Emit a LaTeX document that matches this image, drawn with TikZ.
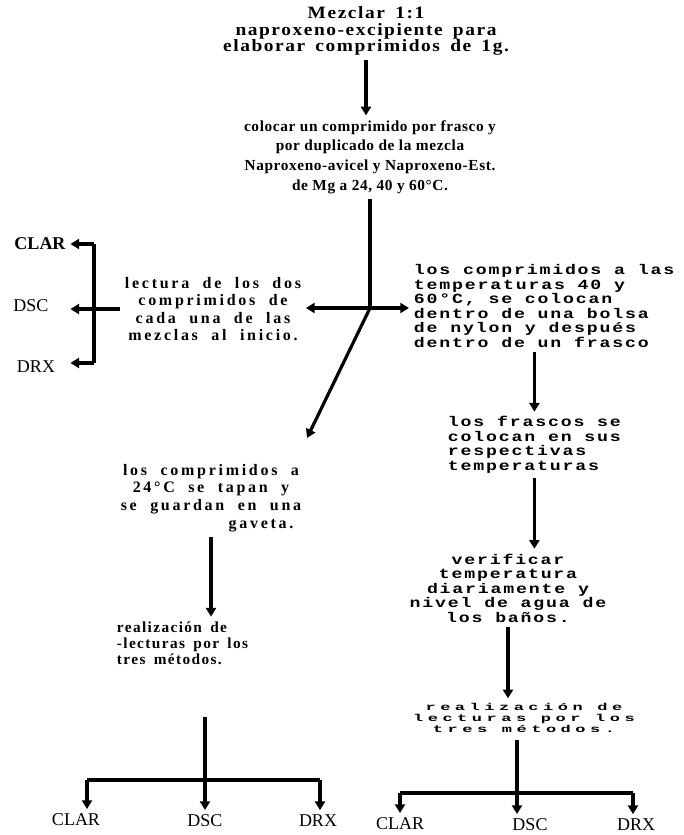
\documentclass[tikz,border=0pt]{standalone}
\usepackage{fontspec}
\usetikzlibrary{arrows.meta}
\newfontfamily\serfont{Liberation Serif}
\newfontfamily\titfont[FakeStretch=1.12,LetterSpace=9,WordSpace=1.6]{Liberation Serif}
\newfontfamily\stepfont[LetterSpace=4]{Liberation Serif}
\newfontfamily\widfont[LetterSpace=17,WordSpace=2]{Liberation Serif}
\newfontfamily\sidfont[LetterSpace=9,WordSpace=1.6]{Liberation Serif}
\newfontfamily\typfont[FakeStretch=1.3,LetterSpace=13]{Liberation Mono}
\newfontfamily\sprfont[FakeStretch=1.7,LetterSpace=45]{Liberation Mono}

\tikzset{every picture/.style={line width=0.75pt}}
\tikzset{
  conn/.style={line width=2.4pt, -{Triangle[width=7.5pt,length=6.5pt]}},
  bar/.style={line width=2.4pt},
  titletxt/.style={align=center, font=\titfont\bfseries\fontsize{13}{12.3}\selectfont},
  steptxt/.style={align=center, font=\stepfont\bfseries\fontsize{11.5}{14.8}\selectfont},
  widetxt/.style={align=center, font=\widfont\bfseries\fontsize{12}{13.2}\selectfont},
  sidetxt/.style={anchor=west, align=left, font=\sidfont\bfseries\fontsize{11.5}{12}\selectfont},
  typetxt/.style={font=\typfont\bfseries\fontsize{10.5}{10.9}\selectfont},
  sparsetxt/.style={align=center, font=\sprfont\bfseries\fontsize{7.5}{8.3}\selectfont},
  lbl/.style={font=\serfont\fontsize{13.5}{14}\selectfont},
  lblb/.style={font=\serfont\bfseries\fontsize{13.5}{14}\selectfont},
}

\begin{document}
\begin{tikzpicture}[x=0.75pt,y=0.75pt,yscale=-1,xscale=1]
\useasboundingbox (0,0) rectangle (684,835);

% Text Node
\draw (366,31) node (mezcla) [titletxt] {Mezclar 1:1\\naproxeno-excipiente para\\elaborar comprimidos de 1g.};
% Text Node
\draw (370,157) node (frasco) [steptxt] {colocar un comprimido por frasco y\\por duplicado de la mezcla\\Naproxeno-avicel y Naproxeno-Est.\\de Mg a 24, 40 y 60°C.};
% Text Node
\draw (213,309) node (lectura) [widetxt] {lectura de los dos\\comprimidos de\\cada una de las\\mezclas al inicio.};
% Text Node
\draw (409,306) node (bolsa) [typetxt, anchor=west, align=left] {los comprimidos a las\\temperaturas 40 y\\60°C, se colocan\\dentro de una bolsa\\de nylon y después\\dentro de un frasco};
% Text Node
\draw (443,445) node (temps) [typetxt, anchor=west, align=left] {los frascos se\\colocan en sus\\respectivas\\temperaturas};
% Text Node
\draw (508,588) node (verif) [typetxt, align=center] {verificar\\temperatura\\diariamente y\\nivel de agua de\\los baños.};
% Text Node
\draw (524,718) node (metodosR) [sparsetxt] {realización de\\lecturas por los\\tres métodos.};
% Text Node
\draw (211,498) node (gaveta) [widetxt] {los comprimidos a\\24°C se tapan y\\se guardan en una\\\hspace*{75pt}gaveta.};
% Text Node
\draw (112,643) node (metodosL) [sidetxt] {realización de\\-lecturas por los\\tres métodos.};

% Text Node
\draw (40,244) node (clarT) [lblb] {CLAR};
\draw (31,306) node (dscT) [lbl] {DSC};
\draw (36,367) node (drxT) [lbl] {DRX};
\draw (76,820) node (clarL) [lbl] {CLAR};
\draw (205,821) node (dscL) [lbl] {DSC};
\draw (318,821) node (drxL) [lbl] {DRX};
\draw (400,824) node (clarR) [lbl] {CLAR};
\draw (530,825) node (dscR) [lbl] {DSC};
\draw (636,825) node (drxR) [lbl] {DRX};

\coordinate (jn) at (370,308);
\coordinate (dg) at (307,438);
\coordinate (bt) at (94,244);
\coordinate (bb) at (94,363);
\coordinate (lt) at (205,717);
\coordinate (lj) at (205,780);
\coordinate (la) at (87,780);
\coordinate (lc) at (320,780);
\coordinate (rt) at (517,740);
\coordinate (rj) at (517,793);
\coordinate (ra) at (400,793);
\coordinate (rc) at (633,793);

% Connection
\draw [conn] (mezcla.south) -- (mezcla.south |- frasco.north);
\draw [bar] (frasco.south -| jn) -- (jn);
\draw [conn] (jn) -- (jn -| lectura.east);
\draw [conn] (jn) -- (jn -| bolsa.west);
\draw [conn] (jn) -- (dg);
% Connection
\draw [bar] (bt) -- (bb);
\draw [conn] (bt) -- (bt -| clarT.east);
\draw [conn] (bb) -- (bb -| clarT.east);
\draw [conn] (lectura.west) -- (lectura.west -| clarT.east);
% Connection
\draw [conn] (bolsa.south -| temps.north) -- (temps.north);
\draw [conn] (temps.south) -- (temps.south |- verif.north);
\draw [conn] (verif.south) -- (verif.south |- metodosR.north);
\draw [conn] (gaveta.south) -- (gaveta.south |- metodosL.north);
% Connection
\draw [bar] (lt) -- (lj);
\draw [bar] (la) -- (lc);
\draw [conn] (la) -- (la |- clarL.north);
\draw [conn] (lj) -- (lj |- dscL.north);
\draw [conn] (lc) -- (lc |- drxL.north);
\draw [bar] (rt) -- (rj);
\draw [bar] (ra) -- (rc);
\draw [conn] (ra) -- (ra |- clarR.north);
\draw [conn] (rj) -- (rj |- dscR.north);
\draw [conn] (rc) -- (rc |- drxR.north);

\end{tikzpicture}
\end{document}
